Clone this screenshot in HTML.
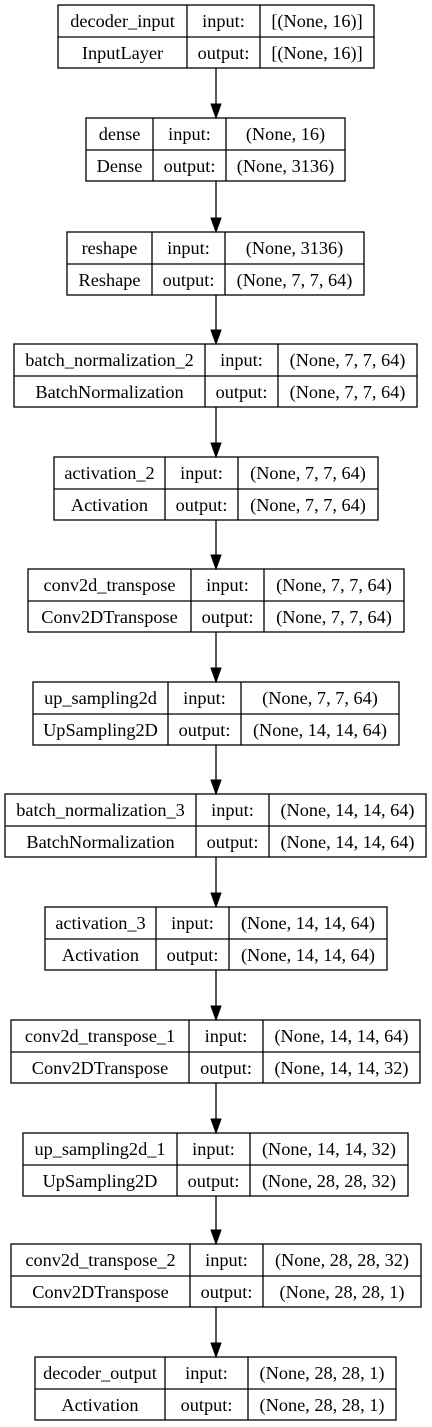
<!DOCTYPE html>
<html><head><meta charset="utf-8"><style>
html,body{margin:0;padding:0;background:#fff;}
svg{display:block;}
text{font-family:"Liberation Serif","Times New Roman",serif;font-size:18.3px;fill:#000;text-anchor:middle;}
rect,line.b{fill:none;stroke:#000;stroke-width:1.3;}
</style></head><body>
<svg width="432" height="1427" viewBox="0 0 432 1427" xmlns="http://www.w3.org/2000/svg">
<g id="nodes"></g>
</svg>
<script>
var N=[
[5,58,374,187,260,"decoder_input","InputLayer","[(None, 16)]","[(None, 16)]"],
[118,86,345,153,226,"dense","Dense","(None, 16)","(None, 3136)"],
[232,67,364,152,225,"reshape","Reshape","(None, 3136)","(None, 7, 7, 64)"],
[344,14,417,205,278,"batch_normalization_2","BatchNormalization","(None, 7, 7, 64)","(None, 7, 7, 64)"],
[457,54,378,165,238,"activation_2","Activation","(None, 7, 7, 64)","(None, 7, 7, 64)"],
[569,28,404,191,264,"conv2d_transpose","Conv2DTranspose","(None, 7, 7, 64)","(None, 7, 7, 64)"],
[682,33,399,168,241,"up_sampling2d","UpSampling2D","(None, 7, 7, 64)","(None, 14, 14, 64)"],
[794,5,426,196,269,"batch_normalization_3","BatchNormalization","(None, 14, 14, 64)","(None, 14, 14, 64)"],
[907,45,387,156,229,"activation_3","Activation","(None, 14, 14, 64)","(None, 14, 14, 64)"],
[1020,11,420,189,263,"conv2d_transpose_1","Conv2DTranspose","(None, 14, 14, 64)","(None, 14, 14, 32)"],
[1133,23,408,177,250,"up_sampling2d_1","UpSampling2D","(None, 14, 14, 32)","(None, 28, 28, 32)"],
[1244,11,421,190,263,"conv2d_transpose_2","Conv2DTranspose","(None, 28, 28, 32)","(None, 28, 28, 1)"],
[1357,35,396,165,248,"decoder_output","Activation","(None, 28, 28, 1)","(None, 28, 28, 1)"]
];
var s='';
for(var i=0;i<N.length;i++){
 var n=N[i],t=n[0],x1=n[1],x2=n[2],d1=n[3],d2=n[4],h=63;
 s+='<rect x="'+x1+'" y="'+t+'" width="'+(x2-x1)+'" height="'+h+'"/>';
 s+='<line class="b" x1="'+x1+'" y1="'+(t+32)+'" x2="'+x2+'" y2="'+(t+32)+'"/>';
 s+='<line class="b" x1="'+d1+'" y1="'+t+'" x2="'+d1+'" y2="'+(t+h)+'"/>';
 s+='<line class="b" x1="'+d2+'" y1="'+t+'" x2="'+d2+'" y2="'+(t+h)+'"/>';
 var c1=(x1+d1)/2,c2=(d1+d2)/2,c3=(d2+x2)/2;
 s+='<text x="'+c1+'" y="'+(t+22)+'">'+n[5]+'</text>';
 s+='<text x="'+c1+'" y="'+(t+54)+'">'+n[6]+'</text>';
 s+='<text x="'+c2+'" y="'+(t+22)+'">input:</text>';
 s+='<text x="'+c2+'" y="'+(t+54)+'">output:</text>';
 s+='<text x="'+c3+'" y="'+(t+22)+'">'+n[7]+'</text>';
 s+='<text x="'+c3+'" y="'+(t+54)+'">'+n[8]+'</text>';
 if(i<N.length-1){
  var b=t+h,nt=N[i+1][0];
  s+='<line class="b" x1="216" y1="'+b+'" x2="216" y2="'+(nt-12)+'"/>';
  s+='<polygon points="211,'+(nt-14)+' 221,'+(nt-14)+' 216,'+nt+'" fill="#000" stroke="#000" stroke-width="1"/>';
 }
}
document.getElementById('nodes').innerHTML=s;
</script>
</body></html>
